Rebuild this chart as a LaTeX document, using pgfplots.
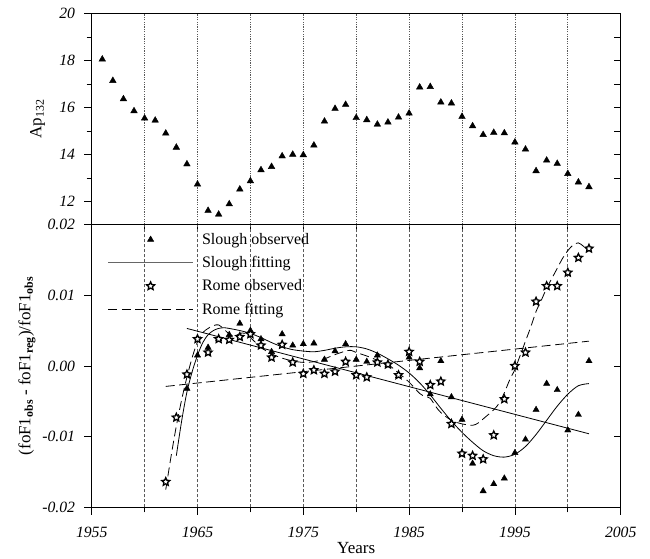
\documentclass[border=0pt]{standalone}
\usepackage{pgfplots}
\pgfplotsset{compat=1.18}
\usepackage{fontspec}
\setmainfont{Liberation Serif}

\pgfdeclareplotmark{ostar}{%
  \pgfpathmoveto{\pgfpointpolar{90}{\pgfplotmarksize}}%
  \pgfpathlineto{\pgfpointpolar{126}{0.47\pgfplotmarksize}}%
  \pgfpathlineto{\pgfpointpolar{162}{\pgfplotmarksize}}%
  \pgfpathlineto{\pgfpointpolar{198}{0.47\pgfplotmarksize}}%
  \pgfpathlineto{\pgfpointpolar{234}{\pgfplotmarksize}}%
  \pgfpathlineto{\pgfpointpolar{270}{0.47\pgfplotmarksize}}%
  \pgfpathlineto{\pgfpointpolar{306}{\pgfplotmarksize}}%
  \pgfpathlineto{\pgfpointpolar{342}{0.47\pgfplotmarksize}}%
  \pgfpathlineto{\pgfpointpolar{18}{\pgfplotmarksize}}%
  \pgfpathlineto{\pgfpointpolar{54}{0.47\pgfplotmarksize}}%
  \pgfpathclose
  \pgfusepathqfillstroke
}

\pgfplotstableread{
year ap
1956 18.06
1957 17.15
1958 16.37
1959 15.86
1960 15.55
1961 15.46
1962 14.91
1963 14.31
1964 13.60
1965 12.74
1966 11.62
1967 11.46
1968 11.90
1969 12.53
1970 12.88
1971 13.35
1972 13.49
1973 13.94
1974 14.01
1975 13.99
1976 14.40
1977 15.42
1978 15.96
1979 16.13
1980 15.57
1981 15.48
1982 15.29
1983 15.38
1984 15.59
1985 15.76
1986 16.87
1987 16.89
1988 16.23
1989 16.19
1990 15.62
1991 15.22
1992 14.85
1993 14.94
1994 14.92
1995 14.53
1996 14.23
1997 13.31
1998 13.76
1999 13.62
2000 13.19
2001 12.83
2002 12.63
}\aptable

\pgfplotstableread{
year v
1964 -0.0032
1965 0.0015
1966 0.0026
1967 0.0038
1968 0.0044
1969 0.0060
1970 0.0050
1971 0.0038
1972 0.0020
1973 0.0045
1974 0.0029
1975 0.0031
1976 0.0032
1977 0.0009
1978 0.0021
1979 0.0031
1980 0.0009
1981 0.0006
1982 0.0015
1983 0.0002
1984 -0.0014
1985 0.0012
1986 -0.0003
1987 -0.0040
1988 0.0007
1989 -0.0044
1990 -0.0076
1991 -0.0138
1992 -0.0177
1993 -0.0167
1994 -0.0159
1995 -0.0123
1996 -0.0104
1997 -0.0062
1998 -0.0025
1999 -0.0034
2000 -0.0091
2001 -0.0069
2002 0.0007
}\sloughobs

\pgfplotstableread{
year v
1962 -0.0164
1963 -0.0073
1964 -0.0012
1965 0.0038
1966 0.0019
1967 0.0038
1968 0.0037
1969 0.0041
1970 0.0045
1971 0.0029
1972 0.0012
1973 0.0030
1974 0.0005
1975 -0.0011
1976 -0.0006
1977 -0.0011
1978 -0.0008
1979 0.0006
1980 -0.0013
1981 -0.0016
1982 0.0005
1983 0.0002
1984 -0.0013
1985 0.0020
1986 0.0006
1987 -0.0027
1988 -0.0022
1989 -0.0082
1990 -0.0124
1991 -0.0127
1992 -0.0132
1993 -0.0098
1994 -0.0047
1995 0.0000
1996 0.0019
1997 0.0091
1998 0.0113
1999 0.0113
2000 0.0132
2001 0.0153
2002 0.0166
}\romeobs

\pgfplotstableread{
year v
1963 -0.0127
1963.5 -0.0078
1964 -0.0037
1964.5 -0.0008
1965 0.0015
1965.5 0.0033
1966 0.0044
1966.5 0.0050
1967 0.0053
1967.5 0.0054
1968 0.0053
1969 0.0050
1970 0.0046
1971 0.0040
1972 0.0033
1973 0.0027
1974 0.0023
1975 0.0021
1976 0.0020
1977 0.0022
1978 0.0025
1979 0.0027
1980 0.0027
1981 0.0024
1982 0.0018
1983 0.0010
1984 0.0001
1985 -0.0010
1986 -0.0024
1987 -0.0041
1988 -0.0060
1989 -0.0078
1990 -0.0094
1991 -0.0108
1992 -0.0120
1993 -0.0127
1994 -0.0129
1995 -0.0125
1996 -0.0114
1997 -0.0097
1998 -0.0077
1999 -0.0057
2000 -0.0040
2001 -0.0028
2002 -0.0025
}\sloughfit

\pgfplotstableread{
year v
1962 -0.0175
1962.5 -0.0128
1963 -0.0085
1963.5 -0.0048
1964 -0.0016
1964.5 0.0012
1965 0.0034
1965.5 0.0047
1966 0.0053
1966.5 0.0057
1967 0.0058
1967.5 0.0052
1968 0.0045
1968.5 0.0042
1969 0.0046
1969.5 0.0046
1970 0.0040
1970.5 0.0033
1971 0.0026
1972 0.0017
1973 0.0011
1974 0.0007
1975 0.0005
1976 0.0006
1977 0.0010
1978 0.0016
1979 0.0021
1979.5 0.0022
1980 0.0019
1981 0.0014
1982 0.0008
1983 0.0002
1984 -0.0010
1985 -0.0023
1986 -0.0039
1986.5 -0.0043
1987 -0.0046
1987.5 -0.0057
1988 -0.0066
1989 -0.0077
1990 -0.0082
1991 -0.0084
1991.5 -0.0081
1992 -0.0075
1993 -0.0062
1993.5 -0.0053
1994 -0.0038
1994.5 -0.0020
1995 -0.0005
1995.5 0.0015
1996 0.0035
1996.5 0.0055
1997 0.0077
1997.5 0.0093
1998 0.0110
1998.5 0.0124
1999 0.0138
1999.5 0.0152
2000 0.0163
2000.5 0.0171
2001 0.0174
2001.5 0.0169
2002 0.0163
}\romefit

\begin{document}
\begin{tikzpicture}[x=1pt,y=1pt]
\path[use as bounding box] (0,0) rectangle (650,558);

\pgfplotsset{
  panel/.style={
    scale only axis, width=529pt, xmin=1955, xmax=2005,
    scaled x ticks=false, scaled y ticks=false,
    axis line style={line width=0.9pt},
    tick style={black, line width=0.8pt},
    tick align=outside,
    major tick length=7.5pt, minor tick length=5pt,
    ticklabel style={font=\fontsize{15.7}{18}\selectfont\itshape},
    yticklabel style={inner sep=0pt, xshift=-9pt},
    xticklabel style={inner sep=0pt, yshift=-12.5pt},
  },
  rightticks/.style={
    scale only axis, width=529pt, xmin=1955, xmax=2005,
    scaled x ticks=false, scaled y ticks=false,
    axis x line=none, axis y line*=right,
    axis line style={line width=0.9pt},
    tick style={black, line width=0.8pt},
    tick align=inside, major tick length=7pt,
    yticklabels={},
  },
}

% ---------------- top panel ----------------
\begin{axis}[panel,
  at={(91.7pt,333.5pt)}, anchor=south west, height=210.8pt,
  ymin=11.03, ymax=20,
  ytick={12,14,16,18,20}, yticklabels={12,14,16,18,20},
  minor ytick={13,15,17,19},
  ytick pos=left,
  xtick=\empty,
  xtick pos=bottom,
  extra x ticks={1960,1965,...,2000},
  extra x tick labels={},
  extra x tick style={grid=major, major tick length=5pt,
    major grid style={black!65, line width=0.7pt, dash pattern=on 1.2pt off 1.2pt}},
  ylabel={Ap\textsubscript{132}},
  every axis y label/.style={at={(axis description cs:-0.1025,0.5)}, rotate=90, anchor=center, font=\fontsize{17}{20}\selectfont},
]
\addplot[only marks, mark=triangle*, mark size=3.8pt, mark options={fill=black, draw=black}] table[x=year, y=ap] {\aptable};
\end{axis}
\begin{axis}[rightticks,
  at={(91.7pt,333.5pt)}, anchor=south west, height=210.8pt,
  ymin=11.03, ymax=20, ytick={12,13,...,20}]
\end{axis}

% ---------------- bottom panel ----------------
\begin{axis}[panel,
  at={(91.7pt,50.7pt)}, anchor=south west, height=282.8pt,
  ymin=-0.02, ymax=0.02,
  ytick={-0.02,-0.01,0,0.01,0.02},
  yticklabels={-0.02,-0.01,0.00,0.01,0.02},
  ytick pos=left,
  xtick={1955,1965,...,2005},
  xticklabels={1955,1965,1975,1985,1995,2005},
  minor xtick={1960,1970,...,2000},
  xtick pos=bottom,
  xmajorgrids=true, xminorgrids=true,
  major grid style={black!65, line width=0.7pt, dash pattern=on 3pt off 2pt},
  minor grid style={black!65, line width=0.7pt, dash pattern=on 3pt off 2pt},
  xlabel={Years},
  every axis x label/.style={at={(axis description cs:0.5,-0.1651)}, anchor=base, font=\fontsize{17}{20}\selectfont},
  ylabel={(foF1\textsubscript{\textbf{obs}} - foF1\textsubscript{\textbf{reg}})/foF1\textsubscript{\textbf{obs}}},
  every axis y label/.style={at={(axis description cs:-0.1223,0.5)}, rotate=90, anchor=center, font=\fontsize{17}{20}\selectfont},
  legend image code/.code={\draw[mark repeat=2,mark phase=2,#1] plot coordinates {(0pt,0pt) (42.3pt,0pt) (84.6pt,0pt)};},
  legend style={at={(axis description cs:0.0302,0.9698)}, anchor=north west,
    draw=none, fill=none, inner sep=0pt, row sep=10.6pt, column sep=8.7pt,
    font=\fontsize{16}{19}\selectfont,
    nodes={inner sep=0pt},
    column 2/.style={nodes={text height=11pt, text depth=3.5pt}}},
  legend cell align=left,
]
% linear trends
\addplot[forget plot, black, line width=0.8pt] coordinates {(1964,0.0053) (2002,-0.0096)};
\addplot[forget plot, black, line width=0.8pt, dash pattern=on 9pt off 4.5pt] coordinates {(1962,-0.0029) (2002,0.0035)};
% fitted curves
\addplot[forget plot, black, line width=0.8pt, smooth] table[x=year, y=v] {\sloughfit};
\addplot[forget plot, black, line width=0.8pt, smooth, dash pattern=on 9pt off 4.5pt] table[x=year, y=v] {\romefit};
% observations
\addplot[forget plot, only marks, mark=triangle*, mark size=3.6pt, mark options={fill=black, draw=black}] table[x=year, y=v] {\sloughobs};
\addplot[forget plot, only marks, mark=ostar, mark size=4.2pt, mark options={fill=white, draw=black, line width=1.3pt, solid}] table[x=year, y=v] {\romeobs};

\addlegendimage{only marks, mark=triangle*, mark size=3.6pt, mark options={fill=black, draw=black}}
\addlegendentry{Slough observed}
\addlegendimage{black!60, line width=0.9pt}
\addlegendentry{Slough fitting}
\addlegendimage{only marks, mark=ostar, mark size=4.2pt, mark options={fill=white, draw=black, line width=1.3pt, solid}}
\addlegendentry{Rome observed}
\addlegendimage{black, line width=0.8pt, dash pattern=on 9pt off 4.5pt}
\addlegendentry{Rome fitting}
\end{axis}
\begin{axis}[rightticks,
  at={(91.7pt,50.7pt)}, anchor=south west, height=282.8pt,
  ymin=-0.02, ymax=0.02, ytick={-0.02,-0.01,0,0.01,0.02}]
\end{axis}
\end{tikzpicture}
\end{document}
